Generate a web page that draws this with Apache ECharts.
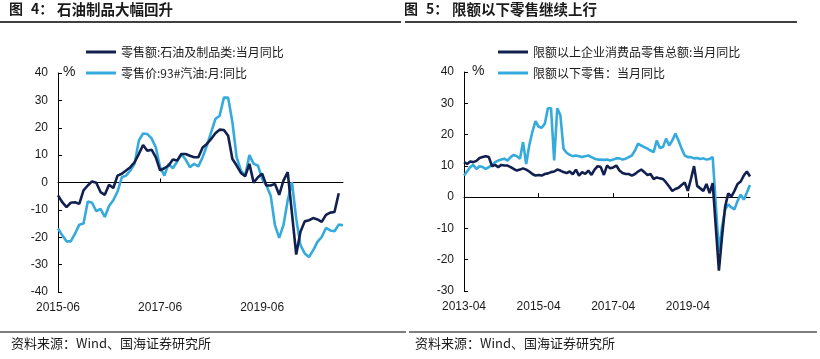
<!DOCTYPE html>
<html>
<head>
<meta charset="utf-8">
<script src="https://cdn.jsdelivr.net/npm/echarts@6/dist/echarts.min.js"></script>
<style>
html,body{margin:0;padding:0;background:#fff;}
#c{width:820px;height:359px;}
</style>
</head>
<body>
<div id="c"></div>
<script>
function monthLabels(y, m, n) {
  var out = [];
  for (var i = 0; i < n; i++) {
    out.push(y + '-' + (m < 10 ? '0' + m : '' + m));
    m++; if (m > 12) { m = 1; y++; }
  }
  return out;
}

// ---- Left chart: 2015-06 .. 2021-01 ----
var leftCategories = monthLabels(2015, 6, 68);
var leftNames = ['零售额:石油及制品类:当月同比', '零售价:93#汽油:月:同比'];
var oilSales = [-4.7,-7.2,-9,-7.4,-7.2,-7.8,-2.9,-1.1,0.4,-0.1,-3.5,-4.5,-0.8,-2,2.5,3.2,4.4,5.6,7.4,10.4,13.7,11.6,12,9.2,4.4,5.2,6.2,8.4,8,10.4,10.4,9.8,9.2,9.2,12.8,14.1,15.9,18,19.3,19.2,17.1,8.6,6.2,3.5,2.3,6.8,-0.1,1.9,3.2,-1.1,-1.1,-0.5,-4.5,0.7,3.8,null,-26.3,-18,-14.2,-13.8,-13,-13.5,-14.4,-11.8,-11,-10.8,-3.9,null];
var gasPrice = [-16.8,-19.3,-21.5,-21.5,-18.7,-15.4,-15,-6.9,-7.4,-10.5,-9.6,-12.6,-8.6,-6.5,-3.3,1.9,2.5,4.4,6.8,15.3,17.9,17.7,16.1,12.8,5.6,2.5,6.8,5.2,7.6,10.4,8.4,5.6,6.8,5.9,9.2,13.5,18.3,23.2,24.4,31,31,22,9.2,4.4,2.5,10,6.8,6.2,1.3,-1.1,-4.8,-15.6,-20.2,-15.6,-6.5,0.1,-13.2,-22.9,-25.9,-27.2,-24.7,-21.7,-19.9,-16.6,-17.5,-17.8,-15.4,-15.6];
var leftYTicks = {min: -40, max: 40, interval: 10};

// ---- Right chart: 2013-04 .. 2020-12 ----
var rightCategories = monthLabels(2013, 4, 93);
var rightNames = ['限额以上企业消费品零售总额:当月同比', '限额以下零售：当月同比'];
var aboveQuota = [11.2,10.6,11.4,11.2,11.6,12.5,12.8,13.1,12.8,9.9,10.3,9.6,10.3,10.1,10.1,9.6,9,8.5,8.8,9.2,8.8,8.2,7.4,6.9,7.1,6.9,7.4,7.6,8,8.2,8.8,8.5,8,7.7,8.2,7.3,8.8,6.9,8,7.4,8.5,7.1,8.8,9.9,9.6,7.1,10.1,9.2,9.5,10.1,8.5,7.7,7.4,7.4,6.9,7.4,8.2,8.8,8,7.1,7.4,5.8,6.3,6,5.8,4.7,3.4,2,2.6,3,3.9,4.7,2,5.8,9.9,3.6,2.8,2,4.2,1.3,4.5,null,-23.5,-12.6,-3,1.2,0.2,2,4.2,5,6.9,8.2,6.6];
var belowQuota = [6.9,8.2,9.6,10.3,9,9.9,9.6,9,9.6,10.3,11.2,11.7,12,12.3,11.7,12.8,13.5,13.1,12.3,17.6,10.6,16.6,20.9,24.3,22.5,22.2,23.5,28.4,28.4,11.7,28.4,26.2,15.5,14.2,13.5,13.1,13.3,13.1,12.8,13.1,13.3,12.8,12.3,12,12,11.9,12,11.7,12,12.4,12.4,12,12.3,12.8,13.3,14.9,17.1,16.5,16,15.5,14.9,14.4,18.1,15.7,16,18.7,16.5,18.1,20.3,18.1,15.5,13.3,12.8,12.8,12.4,12.5,12.2,12.4,12,12.2,12.8,null,-17.5,-9.5,-4,-2.3,-3.3,-3.9,-1.2,0.8,-0.8,1.5,3.9];
var rightYTicks = {min: -30, max: 40, interval: 10};

var titleNums = ['4：', '5：'];
var titles = ['石油制品大幅回升', '限额以下零售继续上行'];
var sourceText = '资料来源：Wind、国海证券研究所';

var DARK = '#12204f';
var LIGHT = '#35aadc';
var TXT = '#1a1a1a';
var cjk = '"Noto Sans CJK SC", "Liberation Sans", sans-serif';
var num = '"Liberation Sans", Arial, sans-serif';

function xPair(grid, cats) {
  return [
    {gridIndex: grid, type: 'category', data: cats, boundaryGap: false,
     axisLine: {show: true, onZero: true, lineStyle: {color: '#000', width: 1}},
     axisTick: {show: true, inside: true, length: 4, interval: 23, lineStyle: {color: '#000'}},
     axisLabel: {show: false}, splitLine: {show: false}},
    {gridIndex: grid, type: 'category', data: cats, boundaryGap: false, position: 'bottom',
     axisLine: {show: false, onZero: false}, axisTick: {show: false},
     axisLabel: {show: true, interval: 23, margin: 10, fontSize: 12, color: TXT, fontFamily: num},
     splitLine: {show: false}}
  ];
}
function yAx(grid, t) {
  return {gridIndex: grid, type: 'value', min: t.min, max: t.max, interval: t.interval,
    axisLine: {show: true, onZero: false, lineStyle: {color: '#000', width: 1}},
    axisTick: {show: true, inside: true, length: 4, lineStyle: {color: '#000'}},
    axisLabel: {fontSize: 12, color: TXT, fontFamily: num, margin: 10},
    splitLine: {show: false}};
}
function lineSeries(name, data, xi, yi, color) {
  return {name: name, type: 'line', data: data, xAxisIndex: xi, yAxisIndex: yi,
    showSymbol: false, connectNulls: true, smooth: false, z: color === LIGHT ? 2 : 3,
    lineStyle: {color: color, width: 2.6}, itemStyle: {color: color}};
}
function legendFor(name, left, top) {
  return {data: [name], left: left, top: top, orient: 'horizontal', icon: 'rect',
    itemWidth: 30, itemHeight: 3, padding: 0,
    textStyle: {fontSize: 12, color: TXT, fontFamily: cjk, lineHeight: 14}};
}

var chart = echarts.init(document.getElementById('c'), null, {renderer: 'canvas'});
chart.setOption({
  animation: false,
  backgroundColor: '#fff',
  grid: [
    {left: 58, top: 73, width: 285, height: 219},
    {left: 464, top: 72, width: 286, height: 219}
  ],
  xAxis: xPair(0, leftCategories).concat(xPair(1, rightCategories)),
  yAxis: [yAx(0, leftYTicks), yAx(1, rightYTicks)],
  legend: [
    legendFor(leftNames[0], 86, 45),
    legendFor(leftNames[1], 86, 66),
    legendFor(rightNames[0], 498, 45),
    legendFor(rightNames[1], 498, 66)
  ],
  series: [
    lineSeries(leftNames[1], gasPrice, 0, 0, LIGHT),
    lineSeries(leftNames[0], oilSales, 0, 0, DARK),
    lineSeries(rightNames[1], belowQuota, 2, 1, LIGHT),
    lineSeries(rightNames[0], aboveQuota, 2, 1, DARK)
  ],
  graphic: [
    {type: 'text', left: 9, top: 2, style: {text: '图', font: 'bold 14px ' + cjk, fill: TXT}},
    {type: 'text', left: 31, top: 2, style: {text: titleNums[0], font: 'bold 14px ' + cjk, fill: TXT}},
    {type: 'text', left: 57, top: 2, style: {text: titles[0], font: 'bold 14.5px ' + cjk, fill: TXT}},
    {type: 'text', left: 404, top: 2, style: {text: '图', font: 'bold 14px ' + cjk, fill: TXT}},
    {type: 'text', left: 426, top: 2, style: {text: titleNums[1], font: 'bold 14px ' + cjk, fill: TXT}},
    {type: 'text', left: 452, top: 2, style: {text: titles[1], font: 'bold 14.5px ' + cjk, fill: TXT}},
    {type: 'line', shape: {x1: 0, y1: 22, x2: 401, y2: 22}, style: {stroke: '#000', lineWidth: 1.3}},
    {type: 'line', shape: {x1: 405, y1: 22, x2: 797, y2: 22}, style: {stroke: '#000', lineWidth: 1.3}},
    {type: 'text', left: 63, top: 65, style: {text: '%', font: '14px ' + num, fill: TXT}},
    {type: 'text', left: 472, top: 64, style: {text: '%', font: '14px ' + num, fill: TXT}},
    {type: 'line', shape: {x1: 0, y1: 332, x2: 406, y2: 332}, style: {stroke: '#000', lineWidth: 1.2}},
    {type: 'line', shape: {x1: 409, y1: 332, x2: 817, y2: 332}, style: {stroke: '#000', lineWidth: 1.2}},
    {type: 'text', left: 11, top: 337, style: {text: sourceText, font: '13px ' + cjk, fill: TXT}},
    {type: 'text', left: 415, top: 337, style: {text: sourceText, font: '13px ' + cjk, fill: TXT}}
  ]
});
</script>
</body>
</html>
